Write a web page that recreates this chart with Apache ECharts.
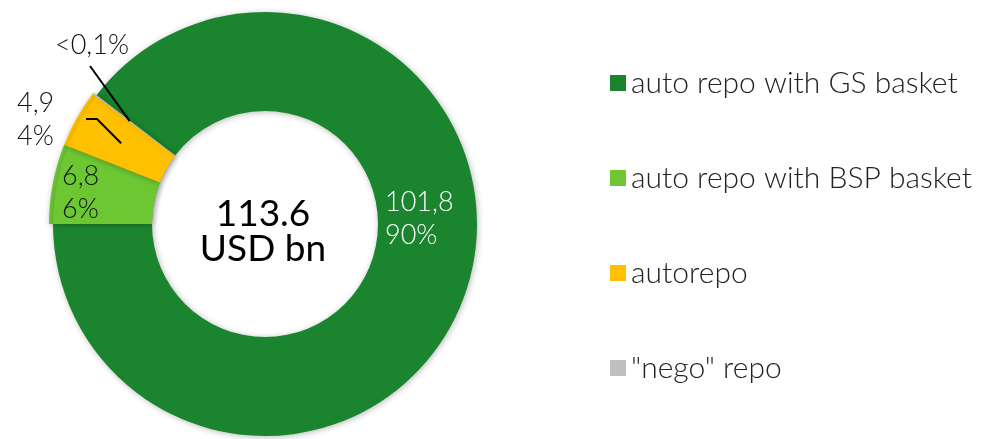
<!DOCTYPE html>
<html>
<head>
<meta charset="utf-8">
<style>
  html, body { margin: 0; padding: 0; background: #fff; }
  #chart { width: 981px; height: 439px; }
</style>
<script src="https://cdn.jsdelivr.net/npm/echarts@6/dist/echarts.min.js"></script>
</head>
<body>
<div id="chart"></div>
<script>
// Repo volume by type, USD bn
const categories = ['auto repo with GS basket', 'auto repo with BSP basket', 'autorepo', '"nego" repo'];
const values = [101.8, 6.8, 4.9, 0.1];
const colors = ['#1a852e', '#6cc733', '#ffc000', '#c0c0c0'];
const totalUnit = 'USD bn';

const FONT = 'Lato, "Open Sans", sans-serif';
const CX = 265, CY = 224;
const INNER = 113, OUTER = 212, OUTER_SMALL = 216;

const total = values.reduce((s, v) => s + v, 0);
// first slice ends exactly on the left horizontal
const startAngle = 360 * values[0] / total - 180;

function fmtValue(v) { return v.toFixed(1).replace('.', ','); }
function fmtShare(v) {
  const p = v / total * 100;
  return p < 0.1 ? '<0,1%' : Math.round(p) + '%';
}
function midAngle(i) {
  let cum = 0;
  for (let k = 0; k < i; k++) cum += values[k];
  return startAngle - (cum + values[i] / 2) / total * 360;
}
function ringPoint(i, r) {
  const a = midAngle(i) * Math.PI / 180;
  return [CX + r * Math.cos(a), CY - r * Math.sin(a)];
}

const labelColors = ['#ffffff', '#111111', '#111111', '#111111'];

const mainData = categories.map((name, i) => ({
  name: name,
  value: values[i],
  itemStyle: { color: colors[i] },
  label: { color: labelColors[i] }
}));

const overlayData = categories.map((name, i) => ({
  name: name,
  value: values[i],
  itemStyle: i === 0
    ? { color: 'rgba(0,0,0,0)', shadowBlur: 0, shadowColor: 'rgba(0,0,0,0)' }
    : { color: colors[i] }
}));

// label anchors (left edge, vertical middle of the text block)
const labelSpots = [
  { x: 385, y: 219 },
  { x: 62, y: 193 },
  { x: 17, y: 120 },
  { x: 55, y: 45 }
];

// leader lines from the two thin segments out to their labels
const autoTip = ringPoint(2, 165);
const negoTip = ringPoint(3, 170);
const leaderLines = [
  [autoTip, [97, 119], [86, 119]],
  [negoTip, [90, 66]]
];

const chart = echarts.init(document.getElementById('chart'), null, { renderer: 'canvas' });

chart.setOption({
  animation: false,
  color: colors,
  legend: {
    orient: 'vertical',
    left: 610,
    top: 68,
    padding: 0,
    itemWidth: 16,
    itemHeight: 16,
    itemGap: 65,
    icon: 'rect',
    selectedMode: false,
    data: categories,
    textStyle: {
      fontFamily: FONT,
      fontSize: 30,
      fontWeight: 300,
      color: '#222',
      lineHeight: 30
    }
  },
  graphic: [
    {
      type: 'text',
      x: CX - 2,
      y: CY + 8,
      style: {
        text: total.toFixed(1) + '\n' + totalUnit,
        align: 'center',
        verticalAlign: 'middle',
        fontFamily: FONT,
        fontSize: 37,
        lineHeight: 35,
        fill: '#000'
      },
      z: 100
    }
  ].concat(leaderLines.map(pts => ({
    type: 'polyline',
    shape: { points: pts },
    style: { stroke: '#000', lineWidth: 2, fill: null },
    z: 100
  }))),
  series: [
    {
      type: 'pie',
      center: [CX, CY],
      radius: [INNER, OUTER],
      startAngle: startAngle,
      clockwise: true,
      avoidLabelOverlap: false,
      itemStyle: {
        shadowBlur: 6,
        shadowColor: 'rgba(0,0,0,0.28)',
        shadowOffsetX: 1,
        shadowOffsetY: 1
      },
      emphasis: { disabled: true },
      label: {
        show: true,
        position: 'outside',
        fontFamily: FONT,
        fontSize: 27,
        fontWeight: 300,
        lineHeight: 33,
        formatter: function (p) {
          const i = p.dataIndex;
          if (i === 3) return fmtShare(values[i]);
          return fmtValue(values[i]) + '\n' + fmtShare(values[i]);
        }
      },
      labelLine: { show: false },
      labelLayout: function (p) {
        const s = labelSpots[p.dataIndex];
        return { x: s.x, y: s.y, align: 'left', verticalAlign: 'middle' };
      },
      data: mainData,
      z: 2
    },
    {
      // the smaller segments sit slightly proud of the ring
      type: 'pie',
      center: [CX, CY],
      radius: [INNER, OUTER_SMALL],
      startAngle: startAngle,
      clockwise: true,
      silent: true,
      label: { show: false },
      labelLine: { show: false },
      emphasis: { disabled: true },
      itemStyle: {
        shadowBlur: 6,
        shadowColor: 'rgba(0,0,0,0.28)',
        shadowOffsetX: 1,
        shadowOffsetY: 1
      },
      data: overlayData,
      z: 1
    }
  ]
});
</script>
</body>
</html>
